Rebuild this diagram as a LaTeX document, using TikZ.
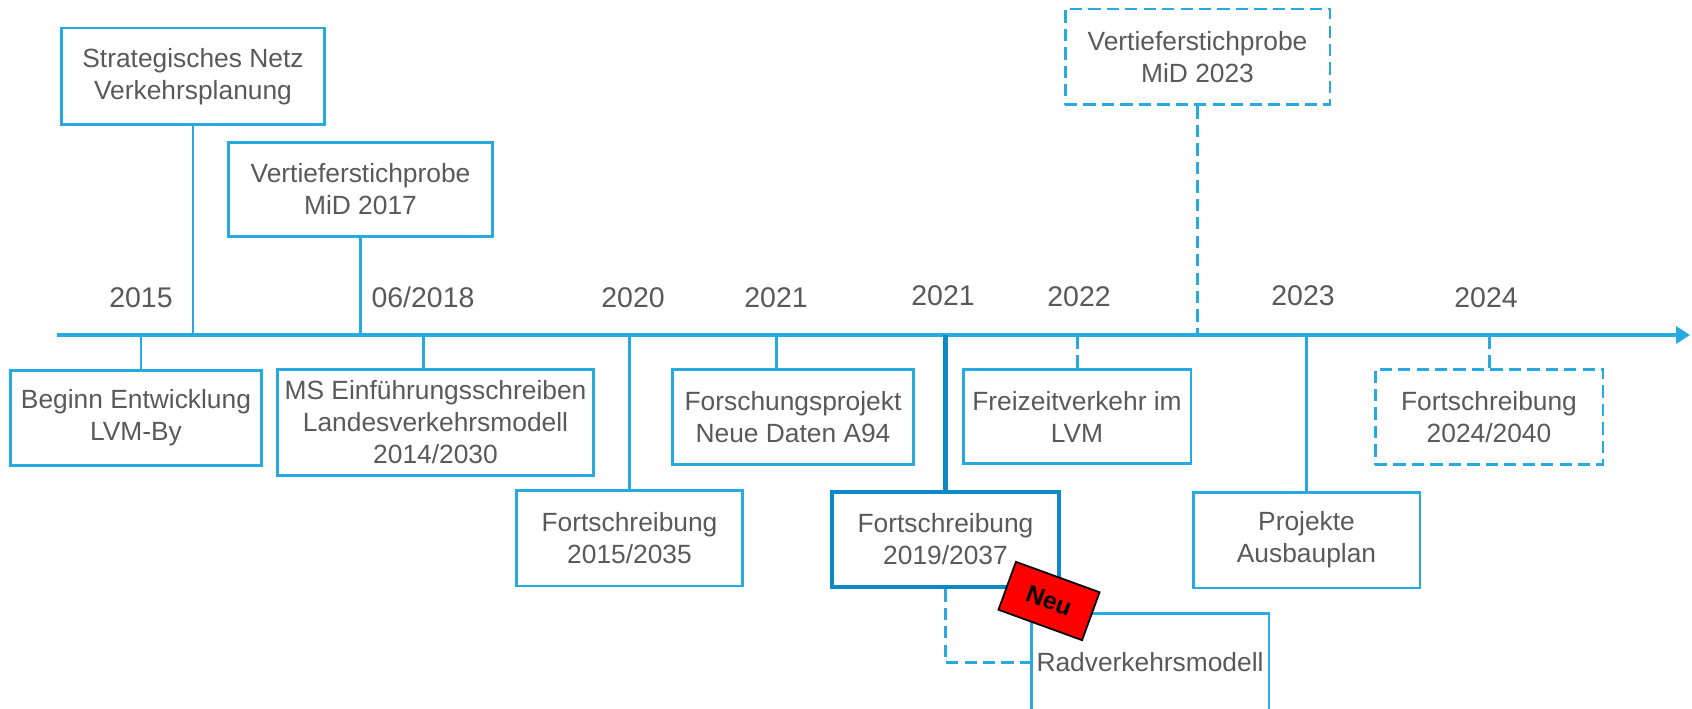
\documentclass[tikz,border=0pt]{standalone}
\usepackage{fontspec}
\setmainfont{Liberation Sans}
\usetikzlibrary{arrows.meta}
\definecolor{lvmblue}{HTML}{27A9E1}
\definecolor{lvmdark}{HTML}{0B8AC5}
\definecolor{txtgrey}{HTML}{595959}

\begin{document}
\begin{tikzpicture}[x=0.02cm, y=-0.02cm,
		box_style/.style={rectangle,draw=lvmblue,line width=1.7pt,text=txtgrey,align=center,inner sep=0pt,font=\fontsize{15}{18.2}\selectfont},
		dbox_style/.style={box_style,dash pattern=on 7pt off 3.5pt},
		year_style/.style={text=txtgrey,anchor=base,inner sep=0pt,font=\fontsize{16.2}{19}\selectfont},
		line_style/.style={draw=lvmblue,line width=1.7pt},
		dline_style/.style={line_style,dash pattern=on 7pt off 3.5pt}]
		
		\useasboundingbox (0,0) rectangle (1692,709);
		
		% timeline
		\coordinate (ax0) at (57,335);
		\coordinate (ax1) at (1690,335);
		\draw[draw=lvmblue,line width=2.3pt,-{Triangle[length=0.28cm,width=0.34cm]}] (ax0) -- (ax1);
		
		% years
		\node[year_style] (y15) at (141,307) {2015};
		\node[year_style] (y18) at (423,307) {06/2018};
		\node[year_style] (y20) at (633,307) {2020};
		\node[year_style] (y21a) at (776,307) {2021};
		\node[year_style] (y21b) at (943,305) {2021};
		\node[year_style] (y22) at (1079,306) {2022};
		\node[year_style] (y23) at (1303,305) {2023};
		\node[year_style] (y24) at (1486,307) {2024};
		
		% boxes above
		\node[box_style,minimum width=5.28cm,minimum height=1.94cm] (strat) at (193,76.5) {Strategisches Netz\\Verkehrsplanung};
		\node[box_style,minimum width=5.3cm,minimum height=1.9cm] (mid17) at (360.5,189.5) {Vertieferstichprobe\\MiD 2017};
		\node[dbox_style,minimum width=5.3cm,minimum height=1.92cm] (mid23) at (1197.5,57) {Vertieferstichprobe\\MiD 2023};
		
		% boxes below
		\node[box_style,minimum width=5.04cm,minimum height=1.92cm] (begin) at (136,418) {Beginn Entwicklung\\LVM-By};
		\node[box_style,minimum width=6.34cm,minimum height=2.14cm] (ms) at (435.5,422.5) {MS Einführungsschreiben\\Landesverkehrsmodell\\2014/2030};
		\node[box_style,minimum width=4.54cm,minimum height=1.92cm] (fort15) at (629.5,538) {Fortschreibung\\2015/2035};
		\node[box_style,minimum width=4.84cm,minimum height=1.92cm] (forsch) at (793,417) {Forschungsprojekt\\Neue Daten A94};
		\node[box_style,draw=lvmdark,line width=2.6pt,minimum width=4.54cm,minimum height=1.9cm] (fort19) at (945.5,539.5) {Fortschreibung\\2019/2037};
		\node[box_style,minimum width=4.76cm,minimum height=1.98cm] (rad) at (1150,662.5) {Radverkehrsmodell};
		\node[box_style,minimum width=4.56cm,minimum height=1.9cm] (frei) at (1077,416.5) {Freizeitverkehr im\\LVM};
		\node[box_style,minimum width=4.54cm,minimum height=1.92cm] (proj) at (1306.5,540) {Projekte\\Ausbauplan};
		\node[dbox_style,minimum width=4.56cm,minimum height=1.92cm] (fort24) at (1489,417) {Fortschreibung\\2024/2040};
		
		% connectors
		\draw[line_style] (strat.south) -- (strat.south |- ax0);
		\draw[line_style] (mid17.south) -- (mid17.south |- ax0);
		\draw[dline_style] (mid23.south) -- (mid23.south |- ax0);
		\draw[line_style] (begin.north -| y15) -- (y15 |- ax0);
		\draw[line_style] (ms.north -| y18) -- (y18 |- ax0);
		\draw[line_style] (fort15.north) -- (fort15.north |- ax0);
		\draw[line_style] (forsch.north -| y21a) -- (y21a |- ax0);
		\draw[draw=lvmdark,line width=2.4pt] (fort19.north) -- (fort19.north |- ax0);
		\draw[dline_style] (frei.north) -- (frei.north |- ax0);
		\draw[line_style] (proj.north) -- (proj.north |- ax0);
		\draw[dline_style] (fort24.north) -- (fort24.north |- ax0);
		\draw[dline_style] (fort19.south) |- (rad.west);
		
		% tag
		\node[rectangle,draw=black,line width=1pt,fill=red,rotate=-20,minimum width=1.78cm,minimum height=1.02cm,font=\fontsize{14}{16}\selectfont\bfseries] (neu) at (1049,601) {Neu};
		
\end{tikzpicture}
\end{document}
